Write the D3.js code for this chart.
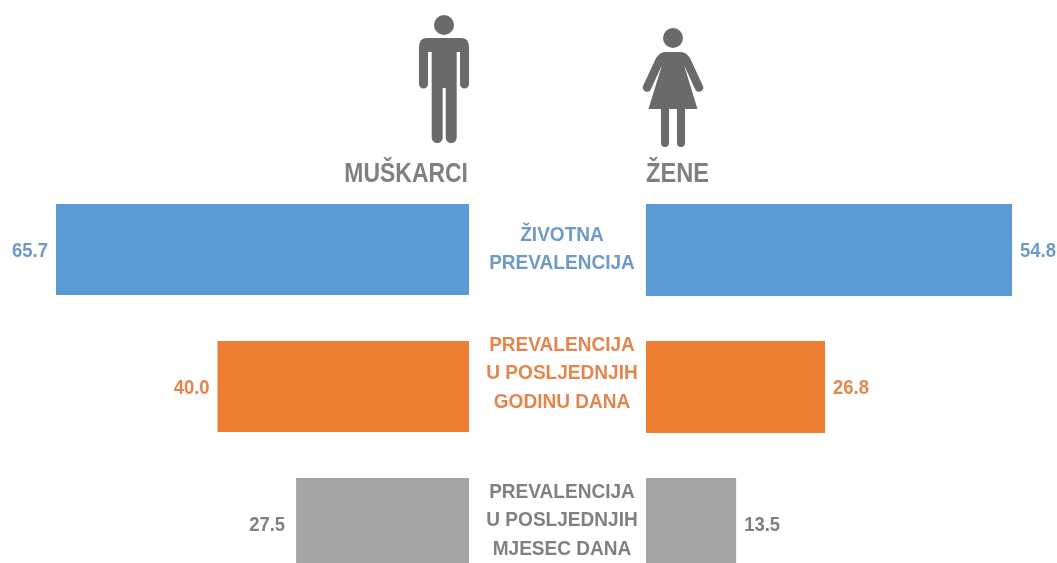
<!DOCTYPE html>
<html><head><meta charset="utf-8">
<script src="https://cdn.jsdelivr.net/npm/d3@7/dist/d3.min.js"></script>
<style>html,body{margin:0;padding:0;background:#fff;overflow:hidden}svg{display:block}
text{font-family:"Liberation Sans",Arial,sans-serif;font-weight:700}</style>
</head><body><svg id="c" width="1057" height="563"></svg>
<script>
const categories = [["ŽIVOTNA","PREVALENCIJA"],["PREVALENCIJA","U POSLJEDNJIH","GODINU DANA"],["PREVALENCIJA","U POSLJEDNJIH","MJESEC DANA"]];
const rowKeys = ["lifetime","year","month"];
const men = [65.7,40.0,27.5];
const women = [54.8,26.8,13.5];
const barColors = ["#5b9bd5","#ed7d31","#a5a5a5"];
const textColors = ["#6d9ac8","#e2864e","#808080"];
const groupLabels = ["MUŠKARCI","ŽENE"];
const labelShift = [-1.5,-14.5,-4.5];
const menGap = [8,8,11];

const svg = d3.select("#c");
svg.append("defs").append("filter").attr("id","soft").append("feGaussianBlur").attr("stdDeviation",0.55);
const root = svg.append("g");
const y = d3.scaleBand().domain(rowKeys).range([204,204+137*2+91]).paddingInner(46/137).paddingOuter(0);
const xL = d3.scaleLinear().domain([0,65.7]).range([469,56]);
const xR = d3.scaleLinear().domain([0,54.8]).range([646,1012]);

function label(g,t,x,yy,size,anchor,sx){
  g.append("text").attr("transform",`translate(${x},${yy}) scale(${sx},1)`).attr("dy","0.35em")
    .attr("text-anchor",anchor).attr("font-size",size).text(t);
}

rowKeys.forEach((k,i)=>{
  const by=y(k), h=y.bandwidth(), mid=by+h/2;
  root.append("rect").attr("x",xL(men[i])).attr("y",by).attr("width",xL(0)-xL(men[i])).attr("height",h).attr("fill",barColors[i]);
  root.append("rect").attr("x",xR(0)).attr("y",by).attr("width",xR(women[i])-xR(0)).attr("height",h+(i<2?1:0)).attr("fill",barColors[i]);
  const tg=root.append("g").attr("filter","url(#soft)").attr("fill",textColors[i]);
  label(tg,men[i].toFixed(1),xL(men[i])-menGap[i],mid+0.5,20.5,"end",0.9);
  label(tg,women[i].toFixed(1),xR(women[i])+8,mid+0.5,20.5,"start",0.9);
  const lines=categories[i], lh=28.5;
  lines.forEach((t,j)=>{
    label(tg,t,562,mid+labelShift[i]+(j-(lines.length-1)/2)*lh,20.5,"middle",0.93);
  });
});

const head = root.append("g").attr("filter","url(#soft)").attr("fill","#808080");
label(head,groupLabels[0],468,173,27,"end",0.85);
label(head,groupLabels[1],646,173,27,"start",0.875);

// pictograms
const ic = root.append("g").attr("filter","url(#soft)").attr("fill","#6b6b6b");
ic.append("circle").attr("cx",444).attr("cy",25).attr("r",10);
ic.append("path").attr("d","M427 38H461Q469 38 469 47V84A4.5 4.5 0 0 1 460 84V52H456.700V137.500A5.500 5.500 0 0 1 445.700 137.500V88H442.700V137.500A5.500 5.500 0 0 1 431.700 137.500V52H428V84A4.500 4.500 0 0 1 419 84V47Q419 38 427 38Z");
ic.append("circle").attr("cx",673).attr("cy",38).attr("r",10);
ic.append("path").attr("d","M665 52H681Q686 52 690 58L702.500 85A3.800 3.800 0 0 1 695.500 90L684 65L697.500 109H685V143A4 4 0 0 1 677 143V109H669V143A4 4 0 0 1 661 143V109H648.500L662 65L650.500 90A3.800 3.800 0 0 1 643.500 85L656 58Q660 52 665 52Z");
</script></body></html>
